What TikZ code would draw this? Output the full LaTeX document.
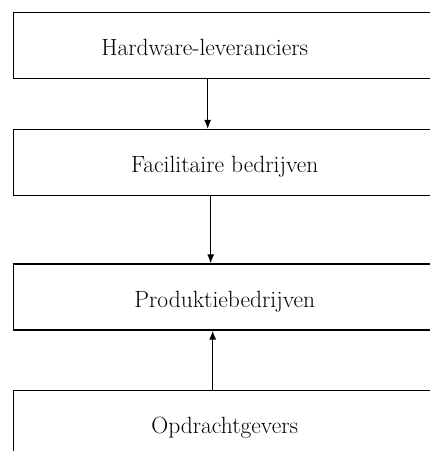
\documentclass[tikz,border=0pt]{standalone}
\usetikzlibrary{positioning,arrows.meta}
\begin{document}
\begin{tikzpicture}[x=1pt, y=1pt, thick,
        box/.style = {draw, rectangle, line width=1.4pt, minimum width=422pt, minimum height=66pt, inner sep=0pt, text height=20pt, text depth=0pt, font=\fontsize{23.5}{26}\selectfont},
        pijl/.style = {-{Latex[length=9pt, width=7pt]}, line width=1.1pt}]
        \useasboundingbox (0,0) rectangle (430,-451);
        \node[box, anchor=north west] (hw) at (13,-12) {};
        \node[font=\fontsize{23.5}{26}\selectfont, text height=20pt, text depth=0pt, inner sep=0pt] (hwtekst) at ([xshift=-20pt]hw.center) {Hardware-leveranciers};
        \node[box] (fac) [below=49.5pt of hw] {Facilitaire bedrijven};
        \node[box] (prod) [below=67pt of fac] {Produktiebedrijven};
        \node[box] (opd) [below=59pt of prod] {Opdrachtgevers};
        \draw[pijl] ([xshift=-17pt]hw.south) -- ([xshift=-17pt]fac.north);
        \draw[pijl] ([xshift=-14pt]fac.south) -- ([xshift=-14pt]prod.north);
        \draw[pijl] ([xshift=-12pt]opd.north) -- ([xshift=-12pt]prod.south);
    \end{tikzpicture}
\end{document}
